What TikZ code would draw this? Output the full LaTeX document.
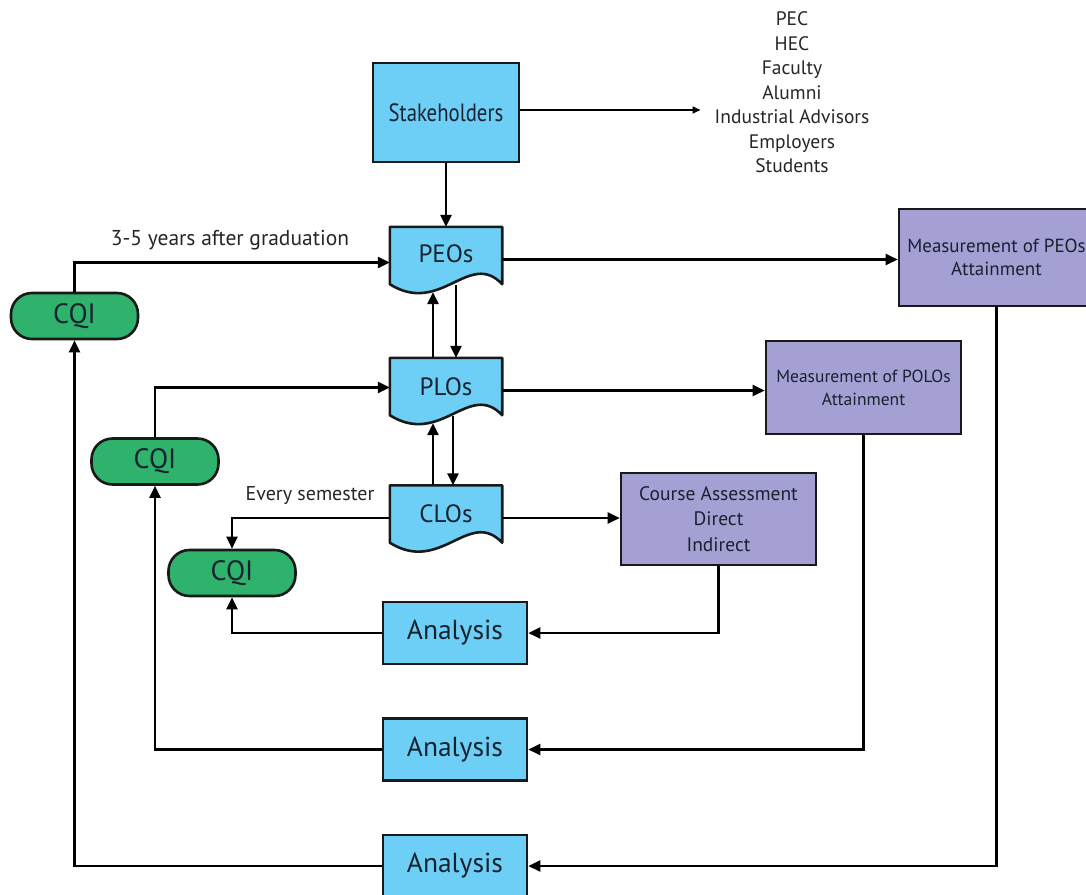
\documentclass[tikz,border=0pt]{standalone}
\usepackage{fontspec}
\setmainfont{PT Sans}
\newfontfamily\narrowsans[FakeStretch=0.83]{PT Sans}
\usetikzlibrary{arrows.meta,calc,backgrounds}

\definecolor{skyblue}{RGB}{109,207,246}
\definecolor{lavender}{RGB}{165,160,212}
\definecolor{cqigreen}{RGB}{46,178,108}
\definecolor{inkdark}{RGB}{22,34,48}
\definecolor{edge}{RGB}{25,25,25}

% wavy-bottom document outline around a node
\newcommand{\drawdoc}[1]{%
  \draw[docline] (#1.north west) -- (#1.north east) -- (#1.south east)
    .. controls ($(#1.south east)+(-33,-35)$) and ($(#1.south west)+(51,32)$) .. (#1.south west)
    -- cycle;}

\begin{document}
\begin{tikzpicture}[x=1pt,y=-1pt,
  docline/.style={draw=edge, line width=2.6pt, fill=skyblue, line join=round},
  bluebox/.style={draw=edge, line width=2.6pt, fill=skyblue, text=inkdark,
    font=\fontsize{27.5}{30}\selectfont, inner sep=0pt},
  docnode/.style={text=inkdark, font=\fontsize{25}{30}\selectfont,
    minimum width=112pt, minimum height=57pt, inner sep=0pt},
  measbox/.style={draw=edge, line width=2.6pt, fill=lavender, text=inkdark,
    font=\fontsize{19}{23}\selectfont, align=center, inner sep=0pt,
    minimum width=195pt},
  cqibox/.style={draw=edge, line width=2.6pt, fill=cqigreen, text=inkdark,
    font=\fontsize{28}{30}\selectfont, rounded corners=21pt, inner sep=0pt,
    minimum width=127pt, minimum height=46pt},
  note/.style={text=black!85, font=\fontsize{19.5}{24.5}\selectfont, inner sep=0pt},
  flow/.style={draw=black, line width=2.4pt,
    -{Triangle[length=12pt,width=11pt]}},
  thinflow/.style={draw=black, line width=1.6pt,
    -{Triangle[length=8pt,width=7pt]}}
]
\clip (0,0) rectangle (1086,894);

% boxes
\node[bluebox, minimum width=146pt, minimum height=99pt, font=\narrowsans\fontsize{25}{30}\selectfont]
  (stake) at (446,112.5) {Stakeholders};
\node[note, align=center] (list) at (792,92.5)
  {PEC\\HEC\\Faculty\\Alumni\\Industrial Advisors\\Employers\\Students};

\node[docnode] (peo) at (446,255.5) {\raisebox{3pt}{PEOs}};
\node[docnode] (plo) at (446,386.5) {PLOs};
\node[docnode] (clo) at (446,514) {\raisebox{-3pt}{CLOs}};
\begin{scope}[on background layer]
  \drawdoc{peo}
  \drawdoc{plo}
  \drawdoc{clo}
\end{scope}

\node[measbox, minimum height=97pt] (pmeas) at (996.5,257.5)
  {Measurement of PEOs\\Attainment};
\node[measbox, font=\fontsize{17.5}{23}\selectfont, minimum height=93pt] (lmeas) at (863.5,387.5)
  {Measurement of POLOs\\Attainment};
\node[measbox, font=\fontsize{19.5}{25.5}\selectfont, minimum height=92pt] (cmeas) at (718.5,519)
  {Course Assessment\\Direct\\Indirect};

\node[bluebox, minimum width=144pt, minimum height=62pt] (a1) at (455,633) {Analysis};
\node[bluebox, minimum width=144pt, minimum height=62pt] (a2) at (455,749.5) {Analysis};
\node[bluebox, minimum width=144pt, minimum height=62pt] (a3) at (455,866) {Analysis};

\node[cqibox] (cqi1) at (74.5,316) {CQI};
\node[cqibox] (cqi2) at (155,461.5) {CQI};
\node[cqibox] (cqi3) at (232,573) {CQI};

\node[note, font=\fontsize{21.5}{25}\selectfont] (yrs) at (230,240) {3-5 years after graduation};
\node[note, font=\fontsize{20}{25}\selectfont] (sem) at (310,496) {Every semester};

% connectors
\draw[flow] (stake.south) -- (peo.north);
\draw[thinflow] (stake.east |- 0,110) -- ([xshift=-14pt]list.west |- 0,110);

\draw[flow] ([yshift=-4pt]peo.east) -- ([yshift=-4pt]peo.east -| pmeas.west);
\draw[flow] (cqi1.north) |- ([yshift=-7pt]peo.west);
\draw[flow] ([xshift=-13pt]plo.north) -- ([xshift=-13pt,yshift=-8pt]peo.south);
\draw[flow] ([xshift=10pt,yshift=-1pt]peo.south) -- ([xshift=10pt]plo.north);

\draw[flow] ([yshift=-4pt]plo.east) -- ([yshift=-4pt]plo.east -| lmeas.west);
\draw[flow] (cqi2.north) |- ([yshift=-1pt]plo.west);
\draw[flow] ([xshift=-13pt]clo.north) -- ([xshift=-13pt,yshift=-8pt]plo.south);
\draw[flow] ([xshift=7pt,yshift=-1pt]plo.south) -- ([xshift=7pt]clo.north);

\draw[flow] ([yshift=-4pt]clo.east) -- ([yshift=-4pt]clo.east -| cmeas.west);
\draw[flow] ([yshift=-4pt]clo.west) -| (cqi3.north);

\draw[flow] (cmeas.south) |- (a1.east);
\draw[flow] (a1.west) -| (cqi3.south);
\draw[flow] (lmeas.south) |- (a2.east);
\draw[flow] (a2.west) -| (cqi2.south);
\draw[flow] (pmeas.south) |- (a3.east);
\draw[flow] (a3.west) -| (cqi1.south);
\end{tikzpicture}
\end{document}
